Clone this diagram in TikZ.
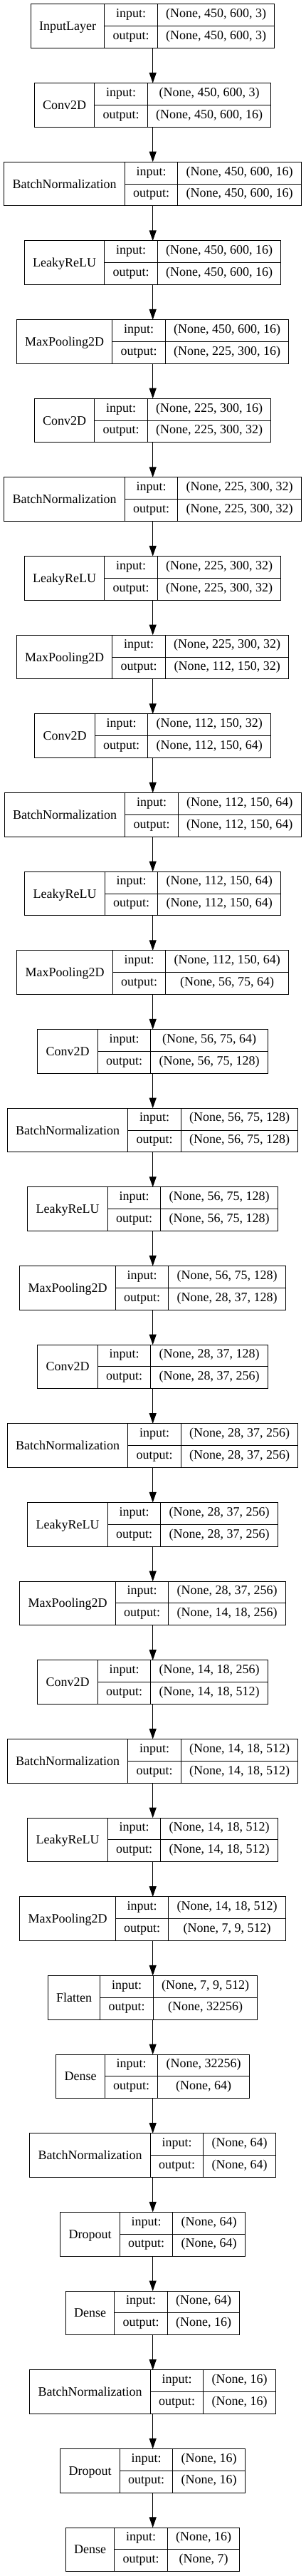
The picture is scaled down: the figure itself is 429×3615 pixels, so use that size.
\documentclass[tikz,border=0pt]{standalone}
\usepackage{fontspec}
\setmainfont{Liberation Serif}
\usetikzlibrary{arrows.meta}
\newcommand\lfont{\fontsize{13.5pt}{16pt}\selectfont}
\newlength\wname \newlength\wlab \newlength\wshp \newlength\wtmp
\newcommand\cpad{23.5}
\newcommand\ccx{214.7}
% measuring pass (outside the picture)
\newcommand\measureL[5]{%
  \settowidth\wname{\lfont #3}%
  \settowidth\wlab{\lfont output:}%
  \settowidth\wshp{\lfont #4}%
  \settowidth\wtmp{\lfont #5}%
  \ifdim\wtmp>\wshp \wshp=\wtmp\fi
  \pgfmathsetmacro\tmpa{\wname/0.75+\cpad}\expandafter\xdef\csname cn@#1\endcsname{\tmpa}%
  \pgfmathsetmacro\tmpa{\wlab/0.75+\cpad}\expandafter\xdef\csname cl@#1\endcsname{\tmpa}%
  \pgfmathsetmacro\tmpa{\wshp/0.75+\cpad}\expandafter\xdef\csname cs@#1\endcsname{\tmpa}%
}
% drawing pass (inside the picture)
\newcommand\drawL[5]{%
  \edef\mcn{\csname cn@#1\endcsname}%
  \edef\mcl{\csname cl@#1\endcsname}%
  \edef\mcs{\csname cs@#1\endcsname}%
  \pgfmathsetmacro\mtw{\mcn+\mcl+\mcs}%
  \pgfmathsetmacro\mxl{\ccx-\mtw/2}%
  \pgfmathsetmacro\mxa{\mxl+\mcn}%
  \pgfmathsetmacro\mxb{\mxa+\mcl}%
  \pgfmathsetmacro\mxr{\mxl+\mtw}%
  \pgfmathsetmacro\myt{6+#2*110.66}%
  \pgfmathsetmacro\mym{\myt+30.75}%
  \pgfmathsetmacro\myb{\myt+61.5}%
  \node[layerbox, minimum width=\mtw*0.75pt] (#1) at (\ccx,\mym) {};
  \draw[cellline] (\mxa,\myt) -- (\mxa,\myb);
  \draw[cellline] (\mxb,\myt) -- (\mxb,\myb);
  \draw[cellline] (\mxa,\mym) -- (\mxr,\mym);
  \node[txt] (#1-n) at ({(\mxl+\mxa)/2},\mym+6) {#3};
  \node[txt] (#1-li) at ({(\mxa+\mxb)/2},\myt+15.4+3.3) {input:};
  \node[txt] (#1-lo) at ({(\mxa+\mxb)/2},\mym+15.4+3.3) {output:};
  \node[txt] (#1-si) at ({(\mxb+\mxr)/2},\myt+15.4+3.3) {#4};
  \node[txt] (#1-so) at ({(\mxb+\mxr)/2},\mym+15.4+3.3) {#5};
}
\newcommand\alllayers{%
\L{l1}{0}{InputLayer}{(None, 450, 600, 3)}{(None, 450, 600, 3)}
\L{l2}{1}{Conv2D}{(None, 450, 600, 3)}{(None, 450, 600, 16)}
\L{l3}{2}{BatchNormalization}{(None, 450, 600, 16)}{(None, 450, 600, 16)}
\L{l4}{3}{LeakyReLU}{(None, 450, 600, 16)}{(None, 450, 600, 16)}
\L{l5}{4}{MaxPooling2D}{(None, 450, 600, 16)}{(None, 225, 300, 16)}
\L{l6}{5}{Conv2D}{(None, 225, 300, 16)}{(None, 225, 300, 32)}
\L{l7}{6}{BatchNormalization}{(None, 225, 300, 32)}{(None, 225, 300, 32)}
\L{l8}{7}{LeakyReLU}{(None, 225, 300, 32)}{(None, 225, 300, 32)}
\L{l9}{8}{MaxPooling2D}{(None, 225, 300, 32)}{(None, 112, 150, 32)}
\L{l10}{9}{Conv2D}{(None, 112, 150, 32)}{(None, 112, 150, 64)}
\L{l11}{10}{BatchNormalization}{(None, 112, 150, 64)}{(None, 112, 150, 64)}
\L{l12}{11}{LeakyReLU}{(None, 112, 150, 64)}{(None, 112, 150, 64)}
\L{l13}{12}{MaxPooling2D}{(None, 112, 150, 64)}{(None, 56, 75, 64)}
\L{l14}{13}{Conv2D}{(None, 56, 75, 64)}{(None, 56, 75, 128)}
\L{l15}{14}{BatchNormalization}{(None, 56, 75, 128)}{(None, 56, 75, 128)}
\L{l16}{15}{LeakyReLU}{(None, 56, 75, 128)}{(None, 56, 75, 128)}
\L{l17}{16}{MaxPooling2D}{(None, 56, 75, 128)}{(None, 28, 37, 128)}
\L{l18}{17}{Conv2D}{(None, 28, 37, 128)}{(None, 28, 37, 256)}
\L{l19}{18}{BatchNormalization}{(None, 28, 37, 256)}{(None, 28, 37, 256)}
\L{l20}{19}{LeakyReLU}{(None, 28, 37, 256)}{(None, 28, 37, 256)}
\L{l21}{20}{MaxPooling2D}{(None, 28, 37, 256)}{(None, 14, 18, 256)}
\L{l22}{21}{Conv2D}{(None, 14, 18, 256)}{(None, 14, 18, 512)}
\L{l23}{22}{BatchNormalization}{(None, 14, 18, 512)}{(None, 14, 18, 512)}
\L{l24}{23}{LeakyReLU}{(None, 14, 18, 512)}{(None, 14, 18, 512)}
\L{l25}{24}{MaxPooling2D}{(None, 14, 18, 512)}{(None, 7, 9, 512)}
\L{l26}{25}{Flatten}{(None, 7, 9, 512)}{(None, 32256)}
\L{l27}{26}{Dense}{(None, 32256)}{(None, 64)}
\L{l28}{27}{BatchNormalization}{(None, 64)}{(None, 64)}
\L{l29}{28}{Dropout}{(None, 64)}{(None, 64)}
\L{l30}{29}{Dense}{(None, 64)}{(None, 16)}
\L{l31}{30}{BatchNormalization}{(None, 16)}{(None, 16)}
\L{l32}{31}{Dropout}{(None, 16)}{(None, 16)}
\L{l33}{32}{Dense}{(None, 16)}{(None, 7)}
}
\begin{document}
{\let\L\measureL \alllayers}%
\begin{tikzpicture}[x=0.75pt,y=-0.75pt,
  layerbox/.style={draw=black, line width=0.75pt, minimum height=61.5*0.75pt, inner sep=0pt, outer sep=0pt},
  cellline/.style={draw=black, line width=0.75pt},
  txt/.style={font=\lfont, inner sep=0pt, anchor=base},
  flow/.style={draw=black, line width=0.75pt, -{Triangle[length=11pt,width=7.5pt]}}]
\useasboundingbox (0,0) rectangle (429,3615);
\fill[white] (0,0) rectangle (429,3615);
\let\L\drawL
\alllayers
\foreach \i [evaluate=\i as \j using int(\i+1)] in {1,...,32}
  \draw[flow] (l\i.south) -- (l\j.north);
\end{tikzpicture}
\end{document}
